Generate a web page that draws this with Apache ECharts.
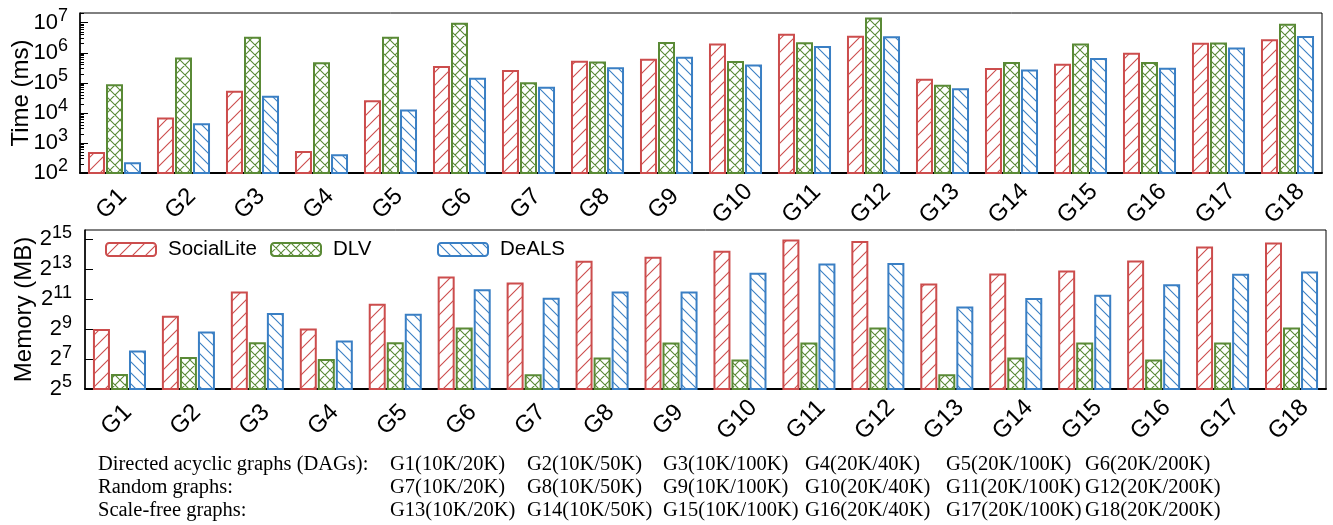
<!DOCTYPE html>
<html>
<head>
<meta charset="utf-8">
<script src="https://cdn.jsdelivr.net/npm/echarts@6/dist/echarts.min.js"></script>
<style>
html,body{margin:0;padding:0;background:#fff;}
#chart{width:1333px;height:525px;}
</style>
</head>
<body>
<div id="chart"></div>
<script>
// ---------- data ----------
const categories = ['G1','G2','G3','G4','G5','G6','G7','G8','G9','G10','G11','G12','G13','G14','G15','G16','G17','G18'];
const seriesNames = ['SocialLite','DLV','DeALS'];

// Time in ms
const timeSocialLite = [500, 7000, 54000, 540, 26500, 360000, 265000, 540000, 630000, 2050000, 4300000, 3700000, 136000, 310000, 430000, 1000000, 2150000, 2800000];
const timeDLV        = [89000, 700000, 3400000, 480000, 3400000, 10000000, 105000, 515000, 2300000, 530000, 2250000, 15000000, 86000, 490000, 2050000, 490000, 2200000, 9300000];
const timeDeALS      = [230, 4500, 37000, 420, 13000, 147000, 74000, 330000, 735000, 410000, 1670000, 3550000, 66000, 280000, 665000, 316000, 1500000, 3600000];

// Memory in MB
const memSocialLite = [512, 949, 2916, 526, 1652, 5833, 4420, 12077, 14665, 19353, 32326, 30360, 4211, 6701, 7697, 12246, 23331, 28132];
const memDLV        = [64, 140, 280, 128, 280, 553, 63, 138, 277, 126, 277, 553, 63, 138, 277, 126, 277, 553];
const memDeALS      = [191, 458, 1075, 302, 1038, 3258, 2181, 2916, 2916, 6936, 10660, 10960, 1458, 2150, 2504, 4096, 6608, 7332];

// tick labels (exponents)
const timeTickExp = [2, 3, 4, 5, 6, 7];
const memTickExp  = [5, 7, 9, 11, 13, 15];

// footnote text
const noteHeads = ['Directed acyclic graphs (DAGs):', 'Random graphs:', 'Scale-free graphs:'];
const noteRows = [
  ['G1(10K/20K)', 'G2(10K/50K)', 'G3(10K/100K)', 'G4(20K/40K)', 'G5(20K/100K)', 'G6(20K/200K)'],
  ['G7(10K/20K)', 'G8(10K/50K)', 'G9(10K/100K)', 'G10(20K/40K)', 'G11(20K/100K)', 'G12(20K/200K)'],
  ['G13(10K/20K)', 'G14(10K/50K)', 'G15(10K/100K)', 'G16(20K/40K)', 'G17(20K/100K)', 'G18(20K/200K)']
];

// ---------- styles ----------
const COLORS = ['#cc4d4d', '#5a8a36', '#3a7fc4'];
const FONT = 'Liberation Sans, Arial, Helvetica, sans-serif';
const SERIF = '20.5px "Liberation Serif", "Times New Roman", serif';

function hatch(color, type, p) {
  const c = document.createElement('canvas');
  c.width = p; c.height = p;
  const g = c.getContext('2d');
  g.fillStyle = '#fff';
  g.fillRect(0, 0, p, p);
  g.strokeStyle = color;
  g.lineWidth = 1.1;
  g.beginPath();
  if (type === 'slash' || type === 'cross') {
    g.moveTo(0, p); g.lineTo(p, 0);
    g.moveTo(-2, 2); g.lineTo(2, -2);
    g.moveTo(p - 2, p + 2); g.lineTo(p + 2, p - 2);
  }
  if (type === 'back' || type === 'cross') {
    g.moveTo(0, 0); g.lineTo(p, p);
    g.moveTo(p - 2, -2); g.lineTo(p + 2, 2);
    g.moveTo(-2, p - 2); g.lineTo(2, p + 2);
  }
  g.stroke();
  return { image: c, repeat: 'repeat' };
}
const PATTERNS = [hatch(COLORS[0], 'slash', 13), hatch(COLORS[1], 'cross', 10), hatch(COLORS[2], 'back', 11)];

const log10 = v => Math.log10(v);
const log2 = v => Math.log2(v);

const minorTimeTicks = [];
for (let n = 2; n <= 7; n++) {
  for (let k = 2; k <= 9; k++) {
    const e = Math.log10(k) + n;
    if (e < 7.32) minorTimeTicks.push(e);
  }
}

const SUP_PAD = [0, 0, 13, 0];
const RICH = {
  b: { fontSize: 22, fontFamily: FONT, color: '#000' },
  s: { fontSize: 18, fontFamily: FONT, color: '#000', padding: SUP_PAD }
};

function supLabel(base, values, margin) {
  return {
    customValues: values,
    margin: margin,
    align: 'right',
    formatter: v => '{b|' + base + '}{s|' + Math.round(v) + '}',
    rich: RICH
  };
}

function makeBar(name, idx, data, gridIdx) {
  return {
    name: name,
    type: 'bar',
    xAxisIndex: gridIdx,
    yAxisIndex: gridIdx === 0 ? 0 : 2,
    data: data,
    barWidth: 17,
    barGap: '6%',
    clip: true,
    itemStyle: { color: PATTERNS[idx], borderColor: COLORS[idx], borderWidth: 2 },
    emphasis: { disabled: true }
  };
}

const xAxisCommon = {
  type: 'category',
  data: categories,
  axisTick: { show: false },
  axisLine: { lineStyle: { color: '#000', width: 2 } },
  axisLabel: {
    rotate: 45, align: 'center', verticalAlign: 'middle', margin: 28,
    padding: [0, 8, 8, 0],
    fontSize: 24, fontFamily: FONT, color: '#000', interval: 0
  },
  splitLine: { show: false }
};

const graphics = [];
const rowY = [466, 489, 512];
const colX = [390, 527, 663, 805, 946, 1085];
noteHeads.forEach((h, i) => {
  graphics.push({ type: 'text', left: 98, top: rowY[i] - 12, style: { text: h, font: SERIF, fill: '#000' } });
  noteRows[i].forEach((t, j) => {
    graphics.push({ type: 'text', left: colX[j], top: rowY[i] - 12, style: { text: t, font: SERIF, fill: '#000' } });
  });
});

const gridCommon = { show: true, borderColor: '#000', borderWidth: 1, backgroundColor: 'transparent', containLabel: false, outerBoundsMode: 'none' };

const option = {
  animation: false,
  backgroundColor: '#fff',
  textStyle: { fontFamily: FONT },
  grid: [
    Object.assign({ left: 80, right: 11, top: 13, height: 160 }, gridCommon),
    Object.assign({ left: 85, right: 7, top: 230, height: 159 }, gridCommon)
  ],
  legend: seriesNames.map((n, i) => ({
    data: [n],
    left: [105, 270, 437][i],
    top: 239,
    padding: 0,
    itemWidth: 50,
    itemHeight: 13,
    itemGap: 0,
    selectedMode: false,
    textStyle: { fontSize: 20.5, fontFamily: FONT, color: '#000', padding: [0, 0, 0, 7] }
  })),
  xAxis: [
    Object.assign({ gridIndex: 0 }, xAxisCommon),
    Object.assign({ gridIndex: 1 }, xAxisCommon)
  ],
  yAxis: [
    {
      type: 'value', gridIndex: 0, min: 2, max: 7.323,
      name: 'Time (ms)', nameLocation: 'middle', nameGap: 47, nameMoveOverlap: false,
      nameTextStyle: { fontSize: 24, fontFamily: FONT, color: '#000' },
      axisLine: { show: true, lineStyle: { color: '#000', width: 1.5 } },
      axisTick: { show: true, inside: true, length: 8, customValues: timeTickExp, lineStyle: { color: '#000', width: 1 } },
      axisLabel: supLabel('10', timeTickExp, 12),
      splitLine: { show: false }
    },
    {
      type: 'value', gridIndex: 0, min: 2, max: 7.323, position: 'left',
      axisLine: { show: false },
      axisTick: { show: true, inside: true, length: 4, customValues: minorTimeTicks, lineStyle: { color: '#000', width: 1 } },
      axisLabel: { show: false },
      splitLine: { show: false }
    },
    {
      type: 'value', gridIndex: 1, min: 5, max: 15.62,
      name: 'Memory (MB)', nameLocation: 'middle', nameGap: 49, nameMoveOverlap: false,
      nameTextStyle: { fontSize: 24, fontFamily: FONT, color: '#000' },
      axisLine: { show: true, lineStyle: { color: '#000', width: 1.5 } },
      axisTick: { show: true, inside: true, length: 8, customValues: memTickExp, lineStyle: { color: '#000', width: 1 } },
      axisLabel: supLabel('2', memTickExp, 13),
      splitLine: { show: false }
    }
  ],
  series: [
    makeBar('SocialLite', 0, timeSocialLite.map(log10), 0),
    makeBar('DLV', 1, timeDLV.map(log10), 0),
    makeBar('DeALS', 2, timeDeALS.map(log10), 0),
    makeBar('SocialLite', 0, memSocialLite.map(log2), 1),
    makeBar('DLV', 1, memDLV.map(log2), 1),
    makeBar('DeALS', 2, memDeALS.map(log2), 1)
  ],
  graphic: graphics
};

const chart = echarts.init(document.getElementById('chart'), null, { renderer: 'canvas' });
chart.setOption(option);
</script>
</body>
</html>
